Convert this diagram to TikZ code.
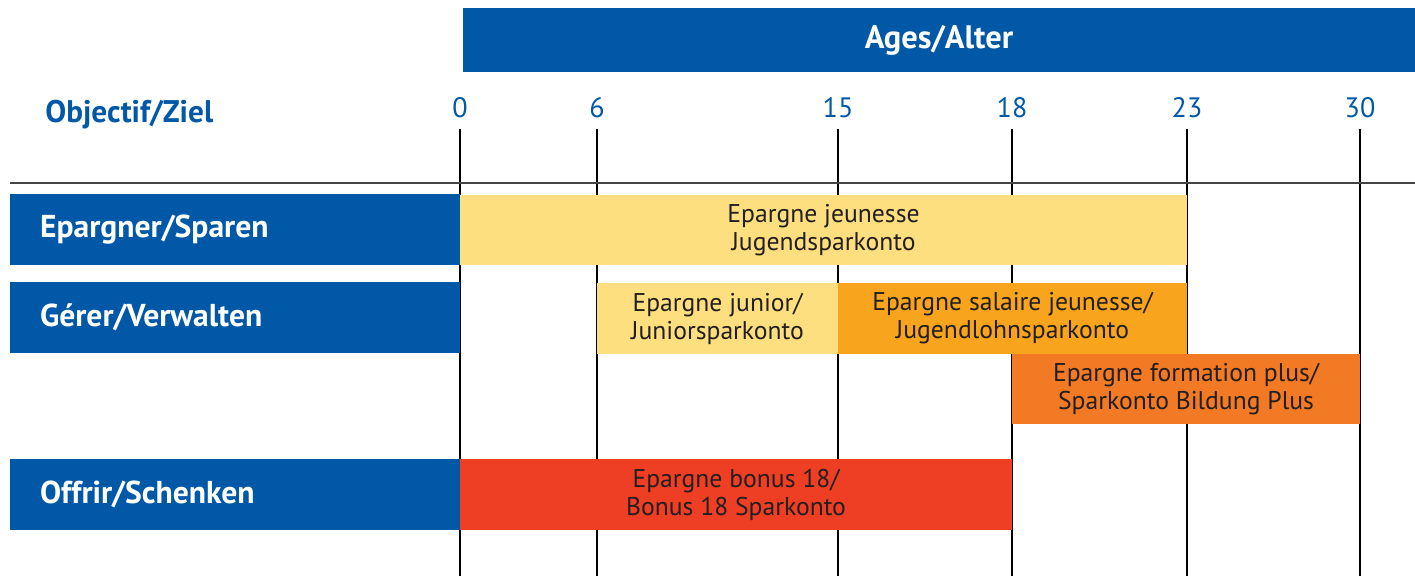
\documentclass[tikz,border=0pt]{standalone}
\usepackage{fontspec}
\setmainfont{PT Sans}
\usepackage{xcolor}
\usetikzlibrary{positioning, calc}
\definecolor{headblue}{HTML}{0058A7}
\definecolor{paleyellow}{HTML}{FDDF7F}
\definecolor{amberorange}{HTML}{F8A51D}
\definecolor{deeporange}{HTML}{F27A24}
\definecolor{bonusred}{HTML}{EE3F24}
\definecolor{textdark}{HTML}{231F20}
\definecolor{rulegray}{HTML}{444444}

\begin{document}
\begin{tikzpicture}[x=0.02cm, y=-0.02cm, font=\fontsize{14.6}{16}\selectfont,
    goal/.style={rectangle, fill=headblue, text=white, font=\fontsize{18}{20}\selectfont\bfseries,
      minimum width=9cm, minimum height=1.42cm, inner xsep=0.6cm, inner ysep=0pt,
      text width=7.8cm, align=left},
    plan/.style={rectangle, minimum height=1.41cm, inner sep=0pt, text=textdark,
      font=\fontsize{14.6}{16}\selectfont, align=center},
    agelbl/.style={text=headblue, font=\fontsize{16}{18}\selectfont, inner sep=0pt}]

    \useasboundingbox (0,0) rectangle (1415,576);

    % Age scale with vertical grid lines
    \foreach \a/\x in {0/460, 6/597, 15/838, 18/1012, 23/1187, 30/1360} {
      \node (age\a) [agelbl] at (\x,108) {\a};
      \draw[black, line width=0.8pt] (age\a |- 0,129) -- (age\a |- 0,576);
    }
    \draw[rulegray, line width=1.1pt] (10,183) -- (1415,183);

    \node (ages) [rectangle, fill=headblue, text=white, font=\fontsize{18.5}{20}\selectfont\bfseries,
      minimum width=19.04cm, minimum height=1.28cm] at (939,40) {Ages/Alter};
    \node (ziel) [anchor=west, inner sep=0pt, text=headblue,
      font=\fontsize{17.8}{20}\selectfont\bfseries] at (45,115) {Objectif/Ziel};

    % Goals
    \node (sparen) [goal] at (235,229.5) {Epargner/Sparen};
    \node (verwalten) [goal] at (235,317.5) {Gérer/Verwalten};
    \node (schenken) [goal] at (235,494.5) {Offrir/Schenken};

    % Accounts
    \node (jeunesse) [plan, fill=paleyellow, minimum width=14.54cm] at (823.5,230)
      {Epargne jeunesse\\Jugendsparkonto};
    \node (junior) [plan, fill=paleyellow, minimum width=4.82cm] at (717.5,318.5)
      {Epargne junior/\\Juniorsparkonto};
    \node (salaire) [plan, fill=amberorange, minimum width=6.98cm] at (1012.5,318.5)
      {Epargne salaire jeunesse/\\Jugendlohnsparkonto};
    \node (formation) [plan, fill=deeporange, minimum width=6.96cm] at (1186,389)
      {Epargne formation plus/\\Sparkonto Bildung Plus};
    \node (bonus) [plan, fill=bonusred, minimum width=11.04cm] at (736,494.5)
      {Epargne bonus 18/\\Bonus 18 Sparkonto};
\end{tikzpicture}
\end{document}
